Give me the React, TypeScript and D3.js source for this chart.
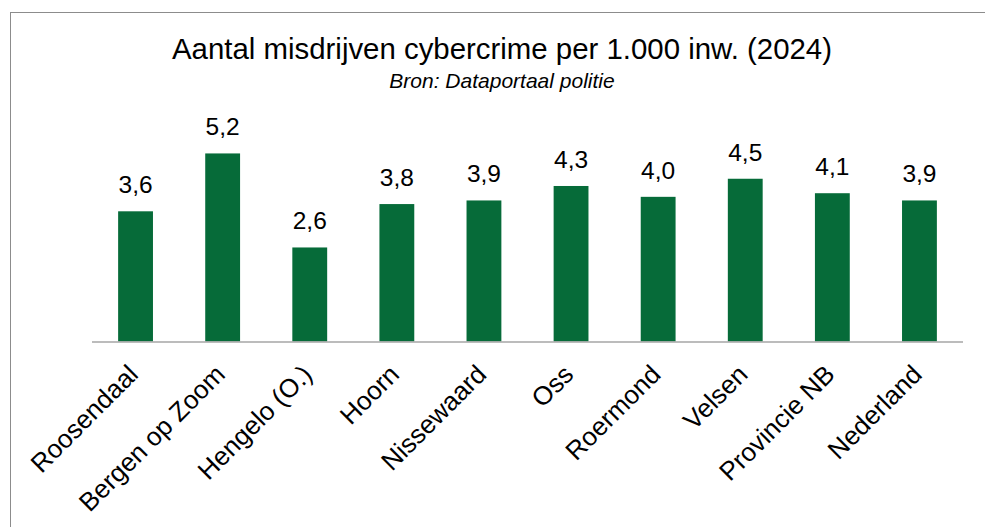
import React, { useEffect, useRef } from "react";
import * as d3 from "d3";

const categories = [
  "Roosendaal",
  "Bergen op Zoom",
  "Hengelo (O.)",
  "Hoorn",
  "Nissewaard",
  "Oss",
  "Roermond",
  "Velsen",
  "Provincie NB",
  "Nederland",
];
const values = [3.6, 5.2, 2.6, 3.8, 3.9, 4.3, 4.0, 4.5, 4.1, 3.9];
const title = "Aantal misdrijven cybercrime per 1.000 inw. (2024)";
const subtitle = "Bron: Dataportaal politie";

const width = 985;
const height = 527;

const App = () => {
  const ref = useRef<SVGSVGElement>(null);

  useEffect(() => {
    const svg = d3.select(ref.current);
    svg.selectAll("*").remove();

    const font = "'Liberation Sans', Arial, sans-serif";
    const nl = d3.formatLocale({ decimal: ",", thousands: ".", grouping: [3], currency: ["€", ""] });
    const fmt = nl.format(".1f");

    // chart frame
    svg.append("rect")
      .attr("x", 10.5)
      .attr("y", 12.5)
      .attr("width", width + 20)
      .attr("height", height + 20)
      .attr("fill", "#fff")
      .attr("stroke", "#8c8c8c")
      .attr("stroke-width", 1);

    const x = d3.scaleBand()
      .domain(categories)
      .range([92, 963])
      .paddingInner(0.6)
      .paddingOuter(0.3);

    const y = d3.scaleLinear()
      .domain([0, 6])
      .range([341.5, 124.5]);

    svg.append("text")
      .attr("x", 502)
      .attr("y", 59)
      .attr("text-anchor", "middle")
      .attr("font-family", font)
      .attr("font-size", 29.4)
      .attr("fill", "#000")
      .text(title);

    svg.append("text")
      .attr("x", 502)
      .attr("y", 88)
      .attr("text-anchor", "middle")
      .attr("font-family", font)
      .attr("font-style", "italic")
      .attr("font-size", 21)
      .attr("fill", "#000")
      .text(subtitle);

    svg.append("g")
      .selectAll("rect")
      .data(values)
      .enter().append("rect")
      .attr("x", (d, i) => x(categories[i]))
      .attr("y", d => y(d))
      .attr("width", x.bandwidth())
      .attr("height", d => y(0) - y(d))
      .attr("fill", "#066b39");

    svg.append("g")
      .selectAll("text")
      .data(values)
      .enter().append("text")
      .attr("x", (d, i) => x(categories[i]) + x.bandwidth() / 2)
      .attr("y", d => y(d) - 18)
      .attr("text-anchor", "middle")
      .attr("font-family", font)
      .attr("font-size", 24.5)
      .attr("fill", "#000")
      .text(d => fmt(d));

    // baseline
    svg.append("line")
      .attr("x1", 92)
      .attr("x2", 963)
      .attr("y1", y(0) + 0.5)
      .attr("y2", y(0) + 0.5)
      .attr("stroke", "#a6a6a6")
      .attr("stroke-width", 1.5);

    // rotated category labels
    svg.append("g")
      .selectAll("text")
      .data(categories)
      .enter().append("text")
      .attr("transform", d => `translate(${x(d) + x.bandwidth() / 2 + 4},376) rotate(-45)`)
      .attr("text-anchor", "end")
      .attr("font-family", font)
      .attr("font-size", 26)
      .attr("fill", "#000")
      .text(d => d);
  }, []);

  return (
    <svg
      ref={ref}
      width={width}
      height={height}
      style={{ position: "absolute", left: 0, top: 0 }}
    ></svg>
  );
};

export default App;
